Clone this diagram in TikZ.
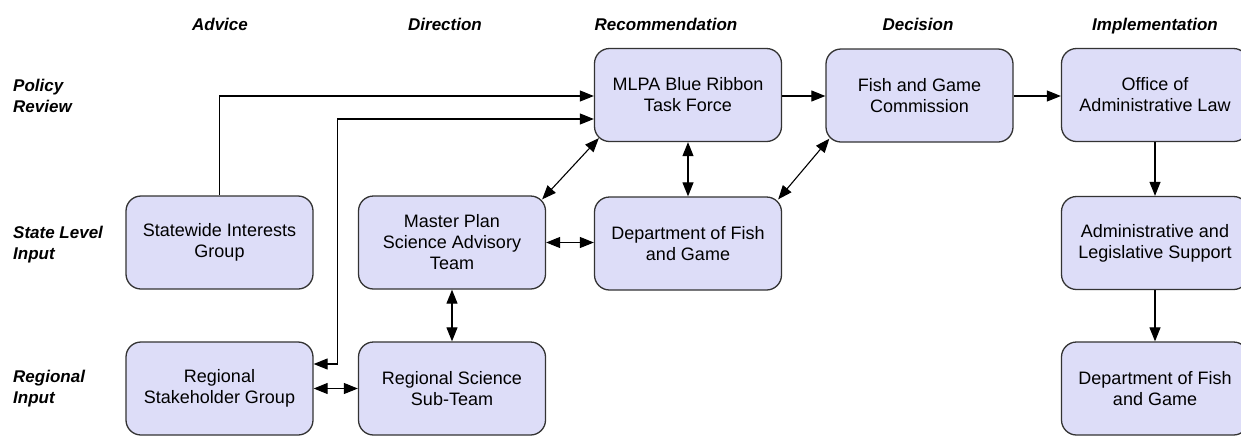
\documentclass[tikz,border=0pt]{standalone}
\usepackage{fontspec}
\setmainfont{Liberation Sans}
\usetikzlibrary{arrows.meta,calc}
\definecolor{boxfill}{HTML}{DDDDF8}
\definecolor{boxline}{HTML}{333333}
\tikzset{
  box/.style={draw=boxline, line width=1.3pt, fill=boxfill, rounded corners=15pt,
    minimum width=187pt, minimum height=93pt, inner sep=0pt, align=center,
    font=\fontsize{18}{21}\selectfont},
  head/.style={font=\fontsize{17}{20}\selectfont\bfseries\itshape, anchor=base, inner sep=0pt},
  rowlab/.style={font=\fontsize{17}{20.5}\selectfont\bfseries\itshape, anchor=north west, align=left, inner sep=0pt},
  conn/.style={draw=black, line width=1.1pt, >={Triangle[length=14pt,width=11pt]}}
}
\begin{document}
\begin{tikzpicture}[x=1pt,y=-1pt]
\useasboundingbox (0,0) rectangle (1241,440);
% headers
\node[head] (hA) at (220,30) {Advice};
\node[head] (hD) at (445,30) {Direction};
\node[head] (hR) at (666,30) {Recommendation};
\node[head] (hDe) at (918,30) {Decision};
\node[head] (hI) at (1155,30) {Implementation};
% row labels
\node[rowlab] (rP) at (13,79) {Policy\\Review};
\node[rowlab] (rS) at (13,226) {State Level\\Input};
\node[rowlab] (rR) at (13,370) {Regional\\Input};
% boxes
\node[box] (SIG) at (219.5,242.5) {Statewide Interests\\Group};
\node[box] (MPSAT) at (452,242.5) {Master Plan\\Science Advisory\\Team};
\node[box] (RSG) at (219.5,388.5) {Regional\\Stakeholder Group};
\node[box] (RSST) at (452,388.5) {Regional Science\\Sub-Team};
\node[box] (MLPA) at (688,95) {MLPA Blue Ribbon\\Task Force};
\node[box] (DFG) at (688,243.5) {Department of Fish\\and Game};
\node[box] (FGC) at (919.5,95.5) {Fish and Game\\Commission};
\node[box] (OAL) at (1155,95) {Office of\\Administrative Law};
\node[box] (ALS) at (1155,243) {Administrative and\\Legislative Support};
\node[box] (DFG2) at (1155,388.5) {Department of Fish\\and Game};
% connectors
\draw[conn,->] (SIG.north) |- ($(MLPA.west)+(0,1)$);
\draw[conn,<->] ($(RSG.east)+(0,-24.5)$) -- ++(24,0) |- ($(MLPA.west)+(0,24)$);
\draw[conn,<->] ($(MLPA.south west)+(5,-4)$) -- ($(MPSAT.north east)+(-4,4)$);
\draw[conn,<->] (MLPA.south) -- (DFG.north);
\draw[conn,<->] (MPSAT.east) -- (MPSAT.east -| DFG.west);
\draw[conn,<->] (MPSAT.south) -- (RSST.north);
\draw[conn,<->] (RSG.east) -- (RSST.west);
\draw[conn,<->] ($(DFG.north east)+(-4,3)$) -- ($(FGC.south west)+(4,-4)$);
\draw[conn,->] ($(MLPA.east)+(0,1)$) -- ($(MLPA.east -| FGC.west)+(0,1)$);
\draw[conn,->] ($(FGC.east)+(0,0.5)$) -- ($(FGC.east -| OAL.west)+(0,0.5)$);
\draw[conn,->] (OAL.south) -- (ALS.north);
\draw[conn,->] (ALS.south) -- (DFG2.north);
\end{tikzpicture}
\end{document}
